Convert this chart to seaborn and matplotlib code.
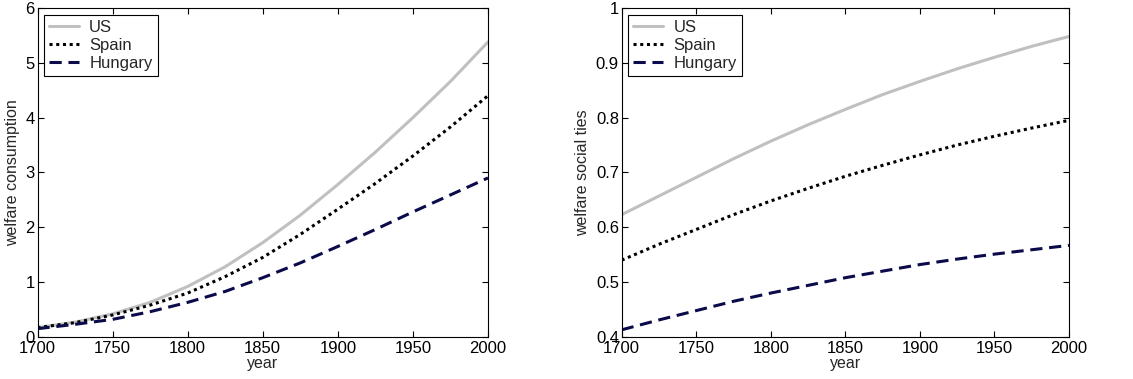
import pandas as pd
import numpy as np
import matplotlib
matplotlib.use('Agg')
import matplotlib.pyplot as plt
import seaborn as sns

years = [1700, 1725, 1750, 1775, 1800, 1825, 1850, 1875, 1900, 1925, 1950, 1975, 2000]

# welfare consumption
cons_us = [0.17, 0.27, 0.42, 0.63, 0.92, 1.28, 1.72, 2.22, 2.78, 3.37, 4.00, 4.66, 5.38]
cons_spain = [0.17, 0.26, 0.40, 0.58, 0.80, 1.10, 1.45, 1.87, 2.33, 2.80, 3.30, 3.83, 4.40]
cons_hungary = [0.15, 0.23, 0.32, 0.46, 0.63, 0.83, 1.08, 1.35, 1.65, 1.96, 2.28, 2.59, 2.90]

# welfare social ties
ties_us = [0.623, 0.657, 0.691, 0.725, 0.757, 0.787, 0.815, 0.842, 0.866, 0.889, 0.910, 0.930, 0.948]
ties_spain = [0.540, 0.569, 0.596, 0.623, 0.648, 0.671, 0.693, 0.713, 0.732, 0.750, 0.766, 0.781, 0.795]
ties_hungary = [0.413, 0.431, 0.448, 0.465, 0.480, 0.494, 0.508, 0.520, 0.532, 0.542, 0.551, 0.559, 0.567]

countries = ['US', 'Spain', 'Hungary']
colors = {'US': '#c0c0c0', 'Spain': '#000000', 'Hungary': '#0b0b4b'}
styles = {'US': '-', 'Spain': (0, (1, 1.2)), 'Hungary': (0, (4, 2.2))}

sns.set_style('ticks')
plt.rcParams['font.family'] = ['Liberation Sans', 'DejaVu Sans']
plt.rcParams['xtick.direction'] = 'in'
plt.rcParams['ytick.direction'] = 'in'

fig = plt.figure(figsize=(11.33, 3.79), dpi=100)
ax1 = fig.add_axes([0.0331, 0.111, 0.3976, 0.868])
ax2 = fig.add_axes([0.5487, 0.111, 0.3948, 0.868])


def draw_panel(ax, series, ylabel, ylim, yticks, yticklabels):
    for name, vals in zip(countries, series):
        sns.lineplot(x=years, y=vals, ax=ax, color=colors[name], linestyle=styles[name],
                     linewidth=2.2, label=name)
    ax.set_xlim(1700, 2000)
    ax.set_ylim(*ylim)
    ax.set_xticks([1700, 1750, 1800, 1850, 1900, 1950, 2000])
    ax.set_yticks(yticks)
    ax.set_yticklabels(yticklabels)
    ax.tick_params(axis='both', which='both', direction='in', length=4, width=0.8,
                   labelsize=12, top=True, right=True, pad=2, colors='black')
    ax.tick_params(axis='x', pad=3)
    ax.set_xlabel('year', fontsize=11.5, labelpad=0)
    ax.set_ylabel(ylabel, fontsize=11.5, labelpad=4)
    for sp in ax.spines.values():
        sp.set_visible(True)
        sp.set_color('black')
        sp.set_linewidth(0.8)
    leg = ax.legend(loc='upper left', fontsize=12, frameon=True, fancybox=False,
                    framealpha=1, edgecolor='black', borderaxespad=0.4,
                    handlelength=1.8, handletextpad=0.6, labelspacing=0.2,
                    borderpad=0.3)
    leg.get_frame().set_linewidth(0.8)


draw_panel(ax1, [cons_us, cons_spain, cons_hungary], 'welfare consumption',
           (0, 6), [0, 1, 2, 3, 4, 5, 6], ['0', '1', '2', '3', '4', '5', '6'])
draw_panel(ax2, [ties_us, ties_spain, ties_hungary], 'welfare social ties',
           (0.4, 1.0), [0.4, 0.5, 0.6, 0.7, 0.8, 0.9, 1.0],
           ['0.4', '0.5', '0.6', '0.7', '0.8', '0.9', '1'])

fig.savefig('out.png', dpi=100)
